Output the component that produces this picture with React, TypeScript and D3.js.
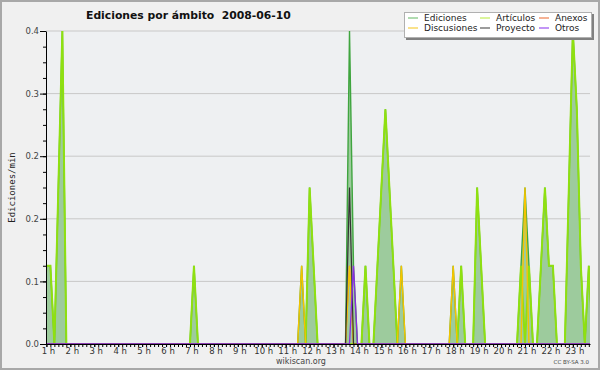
import React, { useRef, useEffect } from 'react';
import * as d3 from 'd3';

// 10-minute samples: [minutes since 00:00, edits/min]; samples not listed are 0
const ediciones: [number, number][] = [
    [60, 0.1], [70, 0.1], [90, 0.2], [100, 0.4], [430, 0.1],
    [700, 0.1], [720, 0.2], [730, 0.1], [820, 0.4], [830, 0.1], [860, 0.1],
    [890, 0.1], [900, 0.2], [910, 0.3], [920, 0.2], [930, 0.1], [950, 0.1],
    [1080, 0.1], [1100, 0.1], [1140, 0.2], [1150, 0.1],
    [1250, 0.1], [1260, 0.2], [1270, 0.1], [1300, 0.1], [1310, 0.2], [1320, 0.1], [1330, 0.1],
    [1370, 0.2], [1380, 0.4], [1390, 0.3], [1400, 0.1], [1420, 0.1],
];
const articulos: [number, number][] = [
    [60, 0.1], [70, 0.1], [90, 0.2], [100, 0.4], [430, 0.1],
    [720, 0.2], [730, 0.1], [860, 0.1],
    [890, 0.1], [900, 0.2], [910, 0.3], [920, 0.2], [930, 0.1],
    [1100, 0.1], [1140, 0.2], [1150, 0.1],
    [1250, 0.1], [1270, 0.1], [1300, 0.1], [1310, 0.2], [1320, 0.1], [1330, 0.1],
    [1370, 0.2], [1380, 0.4], [1390, 0.3], [1400, 0.1], [1420, 0.1],
];
const anexos: [number, number][] = [[820, 0.1]];
const discusiones: [number, number][] = [[700, 0.1], [820, 0.1], [950, 0.1], [1080, 0.1], [1260, 0.2]];
const proyecto: [number, number][] = [[820, 0.2]];
const otros: [number, number][] = [[830, 0.1]];

const hourTicks = [1, 2, 3, 4, 5, 6, 7, 8, 9, 10, 11, 12, 13, 14, 15, 16, 17, 18, 19, 20, 21, 22, 23];
const yTicks = [0, 0.08, 0.16, 0.24, 0.32, 0.4];

const legendItems = [
    { name: 'Ediciones', color: '#7cc47c', col: 0, row: 0 },
    { name: 'Artículos', color: '#c4ef5a', col: 1, row: 0 },
    { name: 'Anexos', color: '#ef7f4f', col: 2, row: 0 },
    { name: 'Discusiones', color: '#f7cf3f', col: 0, row: 1 },
    { name: 'Proyecto', color: '#5a5a5a', col: 1, row: 1 },
    { name: 'Otros', color: '#9a4ff0', col: 2, row: 1 },
];

const fillSeries = (points: [number, number][]) => {
    const m = new Map(points);
    return d3.range(50, 1440, 10).map(t => ({ t, v: m.get(t) ?? 0 }));
};

export default function App() {
    const svgRef = useRef<SVGSVGElement>(null);
    const width = 600, height = 370;
    const margin = { top: 31, right: 10, bottom: 26, left: 46 };

    useEffect(() => {
        const svg = d3.select(svgRef.current);
        svg.selectAll('*').remove();
        const font = 'DejaVu Sans, sans-serif';

        const x = d3.scaleLinear().domain([59, 1423]).range([margin.left, width - margin.right]);
        const y = d3.scaleLinear().domain([0, 0.4]).range([height - margin.bottom, margin.top]);

        // background + border
        svg.append('rect').attr('width', width).attr('height', height).attr('fill', '#f0f0f0');
        svg.append('rect').attr('x', 1).attr('y', 1).attr('width', width - 2).attr('height', height - 2)
            .attr('fill', 'none').attr('stroke', '#a8a8a8').attr('stroke-width', 2);
        svg.append('rect')
            .attr('x', margin.left).attr('y', margin.top)
            .attr('width', width - margin.right - margin.left)
            .attr('height', height - margin.bottom - margin.top)
            .attr('fill', '#eef0f2');

        // gridlines
        svg.append('g').selectAll('line').data(yTicks).join('line')
            .attr('x1', margin.left).attr('x2', width - margin.right)
            .attr('y1', d => y(d)).attr('y2', d => y(d))
            .attr('stroke', '#c8c8c8').attr('stroke-width', 1);

        svg.append('defs').append('clipPath').attr('id', 'plot')
            .append('rect')
            .attr('x', margin.left).attr('y', margin.top - 2)
            .attr('width', width - margin.right - margin.left)
            .attr('height', height - margin.bottom - margin.top + 2);

        const plot = svg.append('g').attr('clip-path', 'url(#plot)');
        const line = d3.line<{ t: number; v: number }>().x(d => x(d.t)).y(d => y(d.v));
        const area = d3.area<{ t: number; v: number }>().x(d => x(d.t)).y0(y(0)).y1(d => y(d.v));

        plot.append('path').datum(fillSeries(ediciones))
            .attr('fill', '#9dcb9d').attr('d', area);

        const lines: [[number, number][], string, number][] = [
            [ediciones, '#3fa53f', 1.4],
            [articulos, '#8fe010', 2],
            [anexos, '#f07a3a', 1.2],
            [discusiones, '#f5c400', 1.4],
            [proyecto, '#333333', 1.2],
            [otros, '#8a2be2', 1.3],
        ];
        lines.forEach(([pts, color, w]) => {
            plot.append('path').datum(fillSeries(pts))
                .attr('fill', 'none').attr('stroke', color).attr('stroke-width', w)
                .attr('stroke-linejoin', 'miter').attr('d', line);
        });

        // y axis
        svg.append('g')
            .attr('transform', `translate(${margin.left},0)`)
            .call(d3.axisLeft(y).tickValues(d3.range(0, 0.401, 0.02)).tickSize(3).tickFormat(() => '').tickSizeOuter(0))
            .call(g => g.select('.domain').attr('stroke', '#000'));
        svg.append('g')
            .attr('transform', `translate(${margin.left},0)`)
            .call(d3.axisLeft(y).tickValues(yTicks).tickSize(6).tickPadding(1).tickFormat(d3.format('.1f')).tickSizeOuter(0))
            .call(g => g.select('.domain').remove())
            .call(g => g.selectAll('.tick text')
                .attr('font-size', 8.5).attr('font-family', font).attr('fill', '#444'));

        // x axis
        svg.append('g')
            .attr('transform', `translate(0,${height - margin.bottom})`)
            .call(d3.axisBottom(x).tickValues(d3.range(60, 1423, 10)).tickSize(3).tickFormat(() => '').tickSizeOuter(0))
            .call(g => g.select('.domain').attr('stroke', '#000').attr('stroke-width', 1.2));
        svg.append('g')
            .attr('transform', `translate(0,${height - margin.bottom})`)
            .call(d3.axisBottom(x).tickValues(hourTicks.map(h => h * 60)).tickSize(3).tickPadding(1)
                .tickFormat(d => `${+d / 60} h`).tickSizeOuter(0))
            .call(g => g.select('.domain').remove())
            .call(g => g.selectAll('.tick text')
                .attr('dx', 1.5)
                .attr('font-size', 8.5).attr('font-family', font).attr('fill', '#333'));

        // y axis title
        svg.append('text')
            .attr('transform', `translate(15,${(margin.top + height - margin.bottom) / 2}) rotate(-90)`)
            .attr('text-anchor', 'middle')
            .attr('font-size', 9).attr('font-family', 'DejaVu Sans Mono, monospace').attr('fill', '#222')
            .text('Ediciones/min');

        // title
        svg.append('text')
            .attr('x', 86).attr('y', 18.5)
            .attr('font-size', 10.8).attr('font-weight', 'bold').attr('font-family', font).attr('fill', '#111')
            .style('white-space', 'pre')
            .text('Ediciones por ámbito  2008-06-10');

        // footer
        svg.append('text')
            .attr('x', 301).attr('y', 364)
            .attr('text-anchor', 'middle')
            .attr('font-size', 8).attr('font-family', font).attr('fill', '#444')
            .text('wikiscan.org');
        svg.append('text')
            .attr('x', 589).attr('y', 364)
            .attr('text-anchor', 'end')
            .attr('font-size', 5.5).attr('font-family', font).attr('fill', '#444')
            .text('CC BY-SA 3.0');

        // legend
        const lg = svg.append('g');
        lg.append('rect').attr('x', 406).attr('y', 14).attr('width', 188).attr('height', 26).attr('fill', '#808080');
        lg.append('rect').attr('x', 404.5).attr('y', 12.5).attr('width', 187).attr('height', 25)
            .attr('fill', '#fff').attr('stroke', '#b0b0b0');
        const colX = [408, 480, 539];
        const rowY = [21, 31];
        legendItems.forEach(it => {
            const lx = colX[it.col], ly = rowY[it.row];
            lg.append('line').attr('x1', lx).attr('x2', lx + 10).attr('y1', ly - 3).attr('y2', ly - 3)
                .attr('stroke', it.color).attr('stroke-width', 1.2);
            lg.append('text').attr('x', lx + 16).attr('y', ly)
                .attr('font-size', 9).attr('font-family', font).attr('fill', '#222')
                .text(it.name);
        });
    }, []);

    return <svg ref={svgRef} width={width} height={height} style={{ position: 'absolute', left: 0, top: 0 }} />;
}
